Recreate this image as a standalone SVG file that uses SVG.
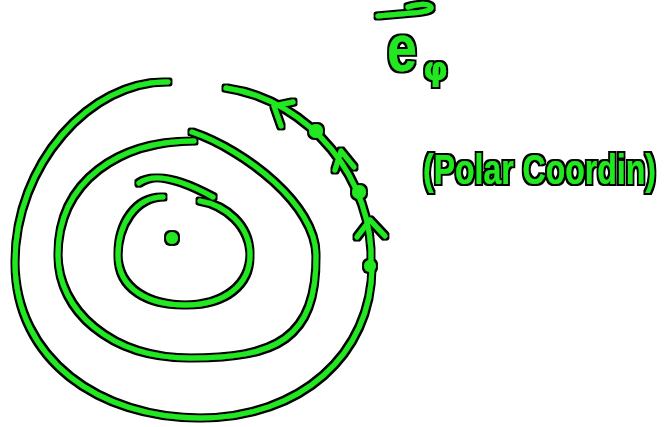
<svg xmlns="http://www.w3.org/2000/svg" width="670" height="427" viewBox="0 0 670 427">
<style>
.ink{fill:none;stroke:#22e822;stroke-width:5;stroke-linecap:round;stroke-linejoin:round}
.dot{fill:#22e822}
.txt{fill:#22e822;font-family:"Liberation Sans",Arial,sans-serif;font-weight:bold}
</style>
<defs>
<filter id="ol" filterUnits="userSpaceOnUse" x="0" y="0" width="670" height="427">
<feMorphology in="SourceAlpha" operator="dilate" radius="1.5" result="d"/>
<feFlood flood-color="#000"/>
<feComposite in2="d" operator="in" result="b"/>
<feMerge><feMergeNode in="b"/><feMergeNode in="SourceGraphic"/></feMerge>
</filter>
</defs>
<rect width="670" height="427" fill="#fff"/>
<g filter="url(#ol)">
<g id="center"><circle class="dot" cx="172" cy="238" r="6"/></g>
<g id="inner-ring">
<path class="ink" d="M163,197 C135,197 118,225 118,255 C118,290 150,305 185,305 C225,305 250,285 250,255 C250,225 225,205 200,201"/>
<path class="ink" d="M139,183 Q160,168 213,197"/>
</g>
<g id="middle-ring">
<path class="ink" d="M192,132 C245,150 316,205 316,255 C317,340 275,358 190,358 C110,358 58,310 58,255 C58,180 120,141 194,141"/>
</g>
<g id="outer-ring">
<path class="ink" d="M168,82 C90,80 15,165 15,262 C15,360 100,418 200,418 C300,418 372,355 372,266"/>
</g>
<g id="connectors">
<path class="ink" d="M226,88 C310,100 375,180 371,266"/>
<path class="ink" d="M293,102 L274,106 L281,126"/>
<path class="ink" d="M335,170 L341,151 L354,167"/>
<path class="ink" d="M357,237 L370,220 L385,236"/>
<circle class="dot" cx="316" cy="131" r="7"/>
<circle class="dot" cx="359" cy="192" r="7"/>
<circle class="dot" cx="370" cy="266" r="6"/>
</g>
<g id="labels">
<path class="ink" d="M378,16 L412,13 C428,12 434,9 430,6 C426,3 415,5 408,7"/>
<text class="txt" x="387" y="71" font-size="66" font-weight="normal" textLength="30" lengthAdjust="spacingAndGlyphs">e</text>
<text class="txt" x="423" y="80" font-size="32" font-weight="normal" style="font-family:'DejaVu Sans',sans-serif">φ</text>
<text class="txt" transform="translate(423,184) scale(1,1.3)" x="0" y="0" font-size="32">(Polar Coordin)</text>
</g>
</g>
</svg>
